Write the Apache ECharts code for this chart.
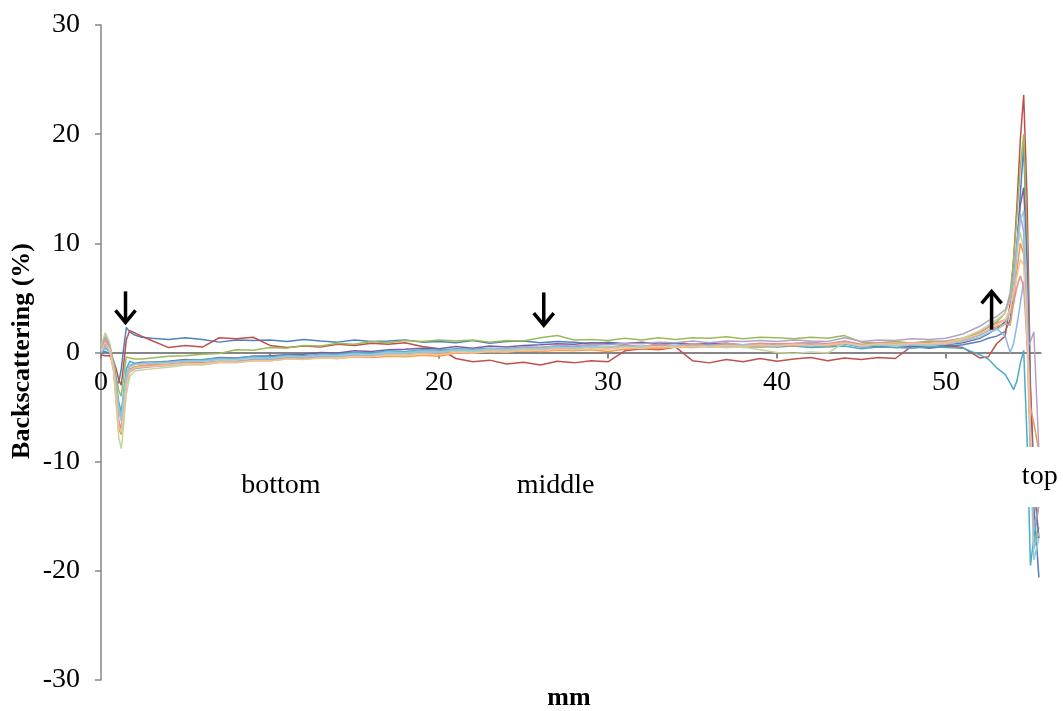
<!DOCTYPE html>
<html>
<head>
<meta charset="utf-8">
<script src="https://cdn.jsdelivr.net/npm/echarts@6/dist/echarts.min.js"></script>
<style>
  html, body { margin: 0; padding: 0; background: #fff; }
  #chart { width: 1063px; height: 711px; }
</style>
</head>
<body>
<div id="chart"></div>
<script>
// Sample positions along the tube (mm), shared by all scans
const positionMm = [0, 0.25, 0.5, 0.75, 0.9, 1.05, 1.2, 1.35, 1.5, 1.7, 2.0, 2.4, 3,
  4, 5, 6, 7, 8, 9, 10, 11, 12, 13, 14, 15, 16, 17, 18, 19, 20, 21, 22, 23, 24, 25, 26, 27, 28,
  29, 30, 31, 32, 33, 34, 35, 36, 37, 38, 39, 40, 41, 42, 43, 44, 45, 46, 47, 48, 49, 50, 51, 52,
  52.5, 53, 53.5, 53.8, 54.0, 54.2, 54.4, 54.6, 54.8, 55.0, 55.2, 55.5];

// Delta backscattering (%) for each scan
const scan1 = [0, 0.1, -0.1, -1.2, -2.6, -2.8, -1.5, 0.5, 2.3, 1.9, 1.6, 1.4, 1.3,
  1.2, 1.35, 1.2, 0.95, 1.15, 1.1, 1.15, 1.0, 1.2, 1.05,
  0.95, 1.15, 1.0, 1.05, 1.15, 0.95, 1.0, 0.9, 1.1, 0.85,
  1.0, 1.05, 0.9, 1.0, 0.95, 0.8, 0.95, 0.8, 0.9, 0.75,
  0.85, 0.65, 0.8, 0.7, 0.6, 0.75, 0.55, 0.7, 0.6, 0.65,
  0.8, 0.5, 0.6, 0.45, 0.55, 0.4, 0.55, 0.7, 1.0,
  1.3, 1.5, 1.9, 3.0, 5.5, 9.5, 14.5, 19.0, 9.0, -6.0, -14.0, -20.6];
const scan2 = [-0.2, -0.3, -0.3, -0.8, -1.5, -2.5, -3.0, -1.0, 1.2, 2.0, 1.8, 1.5, 1.1,
  0.45, 0.65, 0.5, 1.35, 1.25, 1.4, 0.65, 0.45, 0.6, 0.5,
  0.75, 0.65, 0.85, 0.75, 0.9, 0.55, 0.35, -0.55, -0.85, -0.7,
  -1.05, -0.9, -1.15, -0.8, -0.95, -0.75, -0.85, 0.15, 0.35, 0.25,
  0.5, -0.75, -0.95, -0.65, -0.85, -0.55, -0.8, -0.6, -0.45, -0.75,
  -0.5, -0.65, -0.45, -0.55, 0.6, 0.45, 0.65, 0.45, -0.5,
  -0.4, 0.8, 1.5, 4.5, 8.5, 13.5, 19.5, 23.6, 14.0, -3.0, -11.0, -12.0];
const scan3 = [0.5, 1.7, 0.8, -0.8, -2.2, -3.5, -4.0, -2.0, -0.4, -0.5, -0.6, -0.6, -0.5,
  -0.35, -0.3, -0.15, -0.1, 0.25, 0.2, 0.45, 0.4, 0.65, 0.6,
  0.85, 0.75, 1.0, 0.9, 1.1, 1.0, 1.15, 1.05, 1.15, 0.95,
  1.1, 1.05, 1.35, 1.55, 1.15, 1.2, 1.1, 1.3, 1.15, 1.35,
  1.2, 1.35, 1.3, 1.45, 1.25, 1.4, 1.35, 1.25, 1.4, 1.3,
  1.55, 0.95, 0.9, 1.0, 0.85, 1.05, 1.0, 1.3, 1.8,
  2.3, 2.8, 3.6, 5.5, 8.5, 12.5, 17.0, 20.0, 10.0, -5.0, -17.5, -16.0];
const scan4 = [0.2, 0.8, 0.3, -1.5, -3.5, -5.5, -6.0, -4.5, -2.5, -1.2, -1.0, -0.9, -0.9,
  -0.8, -0.65, -0.7, -0.45, -0.5, -0.35, -0.3, -0.2, -0.15, 0.0,
  -0.05, 0.15, 0.1, 0.25, 0.3, 0.4, 0.35, 0.55, 0.4, 0.6,
  0.5, 0.65, 0.7, 0.8, 0.75, 0.9, 0.85, 0.8, 0.95, 0.75,
  0.9, 0.75, 0.8, 0.85, 0.65, 0.8, 0.65, 0.75, 0.6, 0.7,
  0.9, 0.55, 0.65, 0.55, 0.6, 0.5, 0.7, 0.9, 1.3,
  1.7, 2.2, 2.8, 4.0, 6.5, 10.0, 13.5, 15.1, 8.0, -4.0, -12.0, -17.0];
const scan5 = [0.0, 0.4, 0.1, -1.0, -2.8, -4.5, -5.5, -3.5, -1.5, -0.8, -1.0, -1.0, -0.9,
  -0.85, -0.7, -0.65, -0.5, -0.55, -0.35, -0.4, -0.25, -0.3, -0.15,
  -0.15, 0.0, -0.05, 0.15, 0.1, 0.25, 0.2, 0.35, 0.3, 0.4,
  0.35, 0.5, 0.45, 0.55, 0.5, 0.65, 0.5, 0.65, 0.55, 0.6,
  0.5, 0.65, 0.5, 0.6, 0.45, 0.55, 0.5, 0.6, 0.45, 0.5,
  0.6, 0.35, 0.5, 0.45, 0.4, 0.55, 0.45, 0.4, -0.2,
  -0.6, -1.4, -2.0, -2.8, -3.4, -2.6, -1.0, 0.2, -8.0, -19.5, -17.0, -14.0];
const scan6 = [0.1, 1.0, 0.4, -1.8, -4.5, -7.0, -7.5, -5.0, -2.5, -1.5, -1.3, -1.2, -1.1,
  -1.05, -0.9, -0.95, -0.8, -0.85, -0.7, -0.7, -0.55, -0.6, -0.45,
  -0.55, -0.4, -0.45, -0.35, -0.4, -0.25, -0.35, -0.05, -0.05, 0.1,
  0.05, 0.15, 0.1, 0.2, 0.15, 0.25, 0.1, 0.3, 0.4, 0.35,
  0.5, 0.45, 0.6, 0.45, 0.65, 0.5, 0.65, 0.6, 0.7, 0.6,
  0.85, 0.65, 0.8, 0.7, 0.8, 0.75, 0.9, 1.1, 1.6,
  2.0, 2.4, 2.6, 2.5, 4.5, 7.5, 10.0, 9.0, 2.0, -5.0, -6.5, -9.0];
const scan7 = [0.1, 0.5, 0.2, -1.2, -3.0, -5.0, -5.8, -3.8, -2.0, -1.2, -1.1, -1.0, -0.95,
  -0.9, -0.75, -0.75, -0.6, -0.65, -0.45, -0.5, -0.35, -0.4, -0.25,
  -0.25, -0.1, -0.15, 0.05, 0.0, 0.15, 0.1, 0.25, 0.15, 0.3,
  0.25, 0.4, 0.35, 0.5, 0.45, 0.6, 0.45, 0.6, 0.55, 0.7,
  0.55, 0.75, 0.6, 0.75, 0.7, 0.8, 0.65, 0.75, 0.8, 0.7,
  1.0, 0.65, 0.8, 0.75, 0.85, 0.75, 0.9, 1.2, 1.6,
  2.0, 2.2, 1.5, 0.0, 0.8, 2.5, 4.5, 6.5, 3.0, -8.0, -18.0, -16.5];
const scan8 = [0.2, 1.2, 0.5, -1.6, -4.0, -6.2, -7.0, -5.0, -2.8, -1.6, -1.4, -1.3, -1.2,
  -1.15, -0.95, -1.0, -0.85, -0.9, -0.7, -0.75, -0.55, -0.6, -0.45,
  -0.5, -0.35, -0.4, -0.25, -0.25, -0.1, -0.15, 0.05, 0.0, 0.15,
  0.1, 0.25, 0.25, 0.4, 0.35, 0.5, 0.45, 0.6, 0.55, 0.7,
  0.65, 0.8, 0.65, 0.85, 0.7, 0.85, 0.8, 0.85, 0.95, 0.8,
  1.05, 0.75, 0.9, 0.85, 0.9, 0.95, 1.05, 1.3, 1.9,
  2.3, 2.7, 3.0, 3.6, 4.5, 6.0, 7.0, 6.0, 1.0, -10.0, -16.0, -14.0];
const scan9 = [0.6, 1.8, 1.0, -1.5, -4.8, -7.8, -8.8, -6.5, -3.8, -2.2, -1.7, -1.6, -1.5,
  -1.35, -1.15, -1.15, -0.95, -0.95, -0.75, -0.75, -0.6, -0.6, -0.45,
  -0.45, -0.3, -0.35, -0.15, -0.2, -0.05, 0.0, 0.15, 0.1, 0.25,
  0.2, 0.35, 0.3, 0.45, 0.4, 0.55, 0.5, 0.45, 0.6, 0.5,
  0.6, 0.5, 0.6, 0.45, 0.5, 0.25, 0.0, -0.1, 0.05, -0.05,
  0.9, 0.55, 0.7, 0.65, 0.8, 0.75, 0.9, 1.3, 2.0,
  2.5, 3.0, 3.6, 4.8, 7.0, 9.5, 11.0, 9.5, 2.0, -8.0, -14.0, -13.0];
const scan10 = [0.3, 1.4, 0.6, -1.4, -4.0, -6.5, -7.2, -5.2, -3.0, -1.8, -1.5, -1.4, -1.3,
  -1.2, -1.0, -1.0, -0.8, -0.8, -0.65, -0.65, -0.45, -0.5, -0.35,
  -0.35, -0.2, -0.25, -0.05, -0.05, 0.1, 0.05, 0.25, 0.2, 0.35,
  0.35, 0.5, 0.45, 0.65, 0.6, 0.75, 0.7, 0.85, 0.8, 0.95,
  0.9, 1.05, 0.9, 1.05, 1.0, 1.1, 1.0, 1.15, 1.05, 1.0,
  1.35, 1.0, 1.15, 1.1, 1.25, 1.2, 1.3, 1.7, 2.4,
  2.9, 3.3, 3.9, 5.0, 7.0, 10.0, 12.7, 11.0, 0.5, 1.0, 1.9, -9.0];
const scan11 = [0.0, 0.6, 0.2, -1.3, -3.2, -5.2, -6.3, -4.2, -2.2, -1.3, -1.1, -1.0, -1.0,
  -0.95, -0.8, -0.8, -0.65, -0.65, -0.5, -0.55, -0.35, -0.4, -0.25,
  -0.3, -0.15, -0.2, 0.0, -0.05, 0.1, 0.05, 0.2, 0.15, 0.3,
  0.25, 0.4, 0.35, 0.5, 0.35, 0.55, 0.4, 0.55, 0.5, 0.45,
  0.65, 0.5, 0.65, 0.6, 0.7, 0.6, 0.65, 0.7, 0.6, 0.7,
  0.85, 0.55, 0.7, 0.55, 0.7, 0.65, 0.75, 1.0, 1.4,
  1.8, 2.1, 2.6, 3.8, 6.0, 9.0, 12.0, 13.0, 5.0, -9.0, -19.0, -17.0];
const scan12 = [0.2, 0.9, 0.3, -1.6, -4.2, -6.8, -7.3, -5.5, -3.0, -1.7, -1.4, -1.3, -1.25,
  -1.15, -1.0, -1.05, -0.85, -0.9, -0.75, -0.75, -0.6, -0.65, -0.5,
  -0.55, -0.4, -0.4, -0.25, -0.3, -0.15, -0.2, 0.0, -0.05, 0.1,
  0.05, 0.2, 0.15, 0.3, 0.25, 0.35, 0.3, 0.45, 0.4, 0.55,
  0.45, 0.6, 0.5, 0.65, 0.55, 0.7, 0.6, 0.75, 0.65, 0.7,
  0.9, 0.65, 0.8, 0.75, 0.85, 0.8, 0.9, 1.2, 1.7,
  2.1, 2.5, 3.0, 4.0, 5.5, 7.0, 8.5, 8.0, 1.5, -7.0, -12.0, -11.0];

const scans = [scan1, scan2, scan3, scan4, scan5, scan6, scan7, scan8, scan9, scan10, scan11, scan12];
const scanColors = ['#4F81BD', '#C0504D', '#9BBB59', '#7A5FA0', '#4BACC6', '#F79646',
  '#8EB4E3', '#D99694', '#C3D69B', '#B3A2C7', '#93CDDD', '#FAC090'];

// Axis tick values
const xTicks = [0, 10, 20, 30, 40, 50];
const yTicks = [-30, -20, -10, 0, 10, 20, 30];

// Zone labels [text, mm, %] and arrows [mm, tail %, head %]
const zoneLabels = [['bottom', 10.65, -12.2], ['middle', 26.9, -12.2], ['top', 55.55, -11.4]];
const arrows = [[1.45, 5.6, 2.75], [26.2, 5.5, 2.5], [52.7, 2.1, 5.6]];

const serif = '"Liberation Serif", "Times New Roman", serif';
const chart = echarts.init(document.getElementById('chart'), null, { renderer: 'canvas' });

const gridTop = 25, gridBottom = 31, chartH = 711;
const yMin = yTicks[0], yMax = yTicks[yTicks.length - 1];
// distance from the plot's lower edge up to the zero line
const zeroLift = (chartH - gridTop - gridBottom) * (0 - yMin) / (yMax - yMin);

chart.setOption({
  animation: false,
  backgroundColor: '#ffffff',
  grid: { left: 101, right: 22.4, top: gridTop, bottom: gridBottom, outerBoundsMode: 'none' },
  xAxis: {
    type: 'value', min: 0, max: 55.6,
    offset: -zeroLift,
    axisLine: { show: true, onZero: false, lineStyle: { color: '#868686', width: 2 } },
    axisTick: { show: true, customValues: xTicks, length: 6, inside: false, lineStyle: { color: '#868686', width: 2 } },
    axisLabel: { customValues: xTicks, margin: 16, fontFamily: serif, fontSize: 28, color: '#000' },
    splitLine: { show: false }
  },
  yAxis: {
    type: 'value', min: yMin, max: yMax, interval: 10,
    axisLine: { show: true, onZero: false, lineStyle: { color: '#868686', width: 1.5 } },
    axisTick: { show: true, length: 6, lineStyle: { color: '#868686', width: 1.5 } },
    axisLabel: { margin: 21, fontFamily: serif, fontSize: 28, color: '#000' },
    splitLine: { show: false }
  },
  series: scans.map((vals, i) => ({
    type: 'line',
    name: 'scan ' + (i + 1),
    showSymbol: false,
    symbol: 'none',
    z: 2,
    lineStyle: { color: scanColors[i], width: 1.5 },
    data: positionMm.map((x, j) => [x, vals[j]])
  }))
});

// Annotations positioned from data coordinates
const px = p => chart.convertToPixel({ gridIndex: 0 }, p);
const graphics = [];
zoneLabels.forEach(([t, x, y]) => {
  const [cx, cy] = px([x, y]);
  graphics.push({
    type: 'text', x: cx, y: cy, z: 100,
    style: {
      text: t, font: '28px ' + serif, fill: '#000',
      align: 'center', verticalAlign: 'middle',
      backgroundColor: t === 'top' ? '#fff' : null,
      padding: t === 'top' ? [16, 4, 16, 4] : 0
    }
  });
});
arrows.forEach(([x, y0, y1]) => {
  const [ax, ay0] = px([x, y0]);
  const [, ay1] = px([x, y1]);
  const dir = ay1 > ay0 ? 1 : -1;
  graphics.push({
    type: 'line', z: 100,
    shape: { x1: ax, y1: ay0, x2: ax, y2: ay1 - dir * 1 },
    style: { stroke: '#000', lineWidth: 3.5 }
  });
  graphics.push({
    type: 'polyline', z: 100,
    shape: { points: [[ax - 10, ay1 - dir * 12], [ax, ay1], [ax + 10, ay1 - dir * 12]] },
    style: { stroke: '#000', lineWidth: 3.5, fill: null, lineJoin: 'miter' }
  });
});
graphics.push({
  type: 'text', x: 22, y: 351, rotation: Math.PI / 2, z: 100,
  style: { text: 'Backscattering (%)', font: 'bold 26px ' + serif, fill: '#000', align: 'center', verticalAlign: 'middle' }
});
graphics.push({
  type: 'text', x: 569, y: 698, z: 100,
  style: { text: 'mm', font: 'bold 26px ' + serif, fill: '#000', align: 'center', verticalAlign: 'middle' }
});
chart.setOption({ graphic: graphics });
</script>
</body>
</html>
